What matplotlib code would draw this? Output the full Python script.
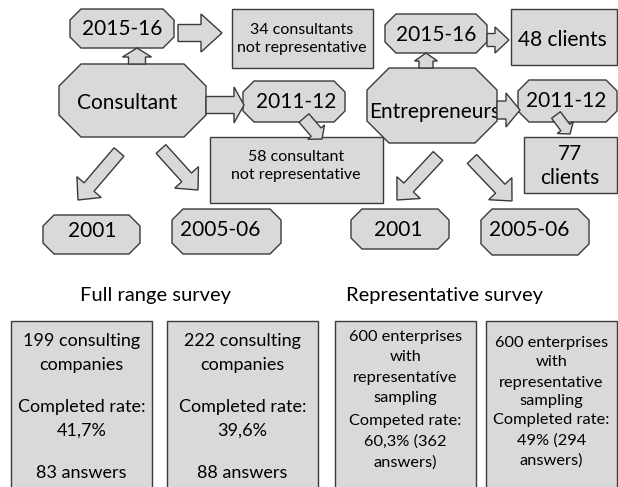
import matplotlib
matplotlib.use("Agg")
import matplotlib.pyplot as plt
import numpy as np
from matplotlib.patches import Polygon, Rectangle

# ── Labels ────────────────────────────────────────────────────────────────────
YEARS = ["2015-16", "2011-12", "2001", "2005-06"]
ROOTS = ["Consultant", "Entrepreneurs"]
CONSULT_NOTES = ["34 consultants\nnot representative", "58 consultant\nnot representative"]
CLIENT_NOTES = ["48 clients", "77\nclients"]
SURVEY_TITLES = ["Full range survey", "Representative survey"]
FULL_BOXES = [
    ["199 consulting", "companies", "Completed rate:", "41,7%", "83 answers"],
    ["222 consulting", "companies", "Completed rate:", "39,6%", "88 answers"],
]
REPR_BOXES = [
    ["600 enterprises", "with", "representatíve", "sampling", "Competed rate:", "60,3% (362", "answers)"],
    ["600 enterprises", "with", "representative", "sampling", "Completed rate:", "49% (294", "answers)"],
]

FILL = "#d9d9d9"
EDGE = "#3a3a3a"
FONT = "Lato"

fig = plt.figure(figsize=(6.18, 4.87), dpi=100)
ax = fig.add_axes([0, 0, 1, 1])
ax.set_xlim(0, 618)
ax.set_ylim(487, 0)
ax.axis("off")


def octagon(x0, y0, x1, y1, c):
    pts = [(x0 + c, y0), (x1 - c, y0), (x1, y0 + c), (x1, y1 - c),
           (x1 - c, y1), (x0 + c, y1), (x0, y1 - c), (x0, y0 + c)]
    ax.add_patch(Polygon(pts, closed=True, fc=FILL, ec=EDGE, lw=1.0, zorder=2))


def box(x0, y0, x1, y1):
    ax.add_patch(Rectangle((x0, y0), x1 - x0, y1 - y0, fc=FILL, ec=EDGE, lw=1.0, zorder=2))


def arrow(x0, y0, x1, y1, shaft, head, hlen):
    d = np.array([x1 - x0, y1 - y0], float)
    L = np.hypot(*d)
    u = d / L
    n = np.array([-u[1], u[0]])
    p0 = np.array([x0, y0], float)
    hb = p0 + u * (L - hlen)
    pts = [p0 + n * shaft / 2, hb + n * shaft / 2, hb + n * head / 2,
           np.array([x1, y1], float), hb - n * head / 2, hb - n * shaft / 2,
           p0 - n * shaft / 2]
    ax.add_patch(Polygon(pts, closed=True, fc=FILL, ec=EDGE, lw=1.0, zorder=4))


def txt(x, y, s, size, ha="center", ls=1.2, z=3):
    ax.text(x, y, s, fontsize=size, ha=ha, va="center", family=FONT,
            color="black", linespacing=ls, zorder=z)


BIG = 15

# ── Left: consultants ─────────────────────────────────────────────────────────
octagon(70, 9, 174, 48, 11)
txt(122, 29, YEARS[0], BIG)
arrow(137, 64, 137, 48, 17, 29, 9)
arrow(178, 33, 222, 33, 17, 38, 21)
box(232, 9, 373, 68)
txt(302, 39, CONSULT_NOTES[0], 11.5, ls=1.4)

octagon(59, 64, 206, 137, 22)
txt(127, 103, ROOTS[0], BIG)
arrow(206, 105, 244, 105, 17, 36, 10)
octagon(243, 81, 345, 122, 11)
txt(296, 102, YEARS[1], BIG)
box(210, 137, 383, 203)
txt(296, 166, CONSULT_NOTES[1], 11.5, ls=1.45)
arrow(304, 118, 322, 139, 13, 22, 9)

arrow(119, 152, 78, 200, 13, 32, 17)
arrow(161, 149, 198, 190, 13, 32, 17)
octagon(43, 215, 140, 254, 11)
txt(92, 231, YEARS[2], BIG)
octagon(172, 209, 281, 254, 11)
txt(220, 230, YEARS[3], BIG)

# ── Right: entrepreneurs ──────────────────────────────────────────────────────
octagon(385, 14, 487, 53, 11)
txt(436, 35, YEARS[0], BIG)
arrow(426, 68, 426, 53, 14, 23, 8)
arrow(487, 40, 509, 40, 13, 26, 14)
box(511, 9, 617, 65)
txt(562, 40, CLIENT_NOTES[0], BIG)

octagon(367, 68, 497, 143, 22)
txt(369, 112, ROOTS[1], BIG, ha="left")
arrow(497, 110, 520, 110, 18, 34, 14)
octagon(518, 80, 617, 122, 11)
txt(566, 101, YEARS[1], BIG)
box(524, 137, 617, 193)
txt(570, 166, CLIENT_NOTES[1], BIG, ls=1.25)
arrow(556, 115, 570, 134, 11, 20, 8)

arrow(438, 156, 397, 200, 13, 32, 17)
arrow(472, 159, 512, 201, 13, 32, 17)
octagon(351, 209, 449, 249, 11)
txt(398, 230, YEARS[2], BIG)
octagon(481, 209, 589, 255, 11)
txt(529, 230, YEARS[3], BIG)

# ── Survey boxes ──────────────────────────────────────────────────────────────
txt(155, 295, SURVEY_TITLES[0], 14.5)
txt(445, 295, SURVEY_TITLES[1], 14.5)

full_x = [(11, 152), (167, 318)]
full_y = [341, 365, 407, 431, 473]
for (x0, x1), lines in zip(full_x, FULL_BOXES):
    box(x0, 321, x1, 500)
    for y, s in zip(full_y, lines):
        txt((x0 + x1) / 2, y, s, 13)

repr_x = [(335, 476), (486, 617)]
repr_y = [[337, 357, 378, 398, 421, 442, 463], [343, 362, 383, 401, 420, 441, 461]]
for (x0, x1), ys, lines in zip(repr_x, repr_y, REPR_BOXES):
    box(x0, 321, x1, 500)
    for y, s in zip(ys, lines):
        txt((x0 + x1) / 2, y, s, 11.8)

fig.savefig("out.png", dpi=100)
